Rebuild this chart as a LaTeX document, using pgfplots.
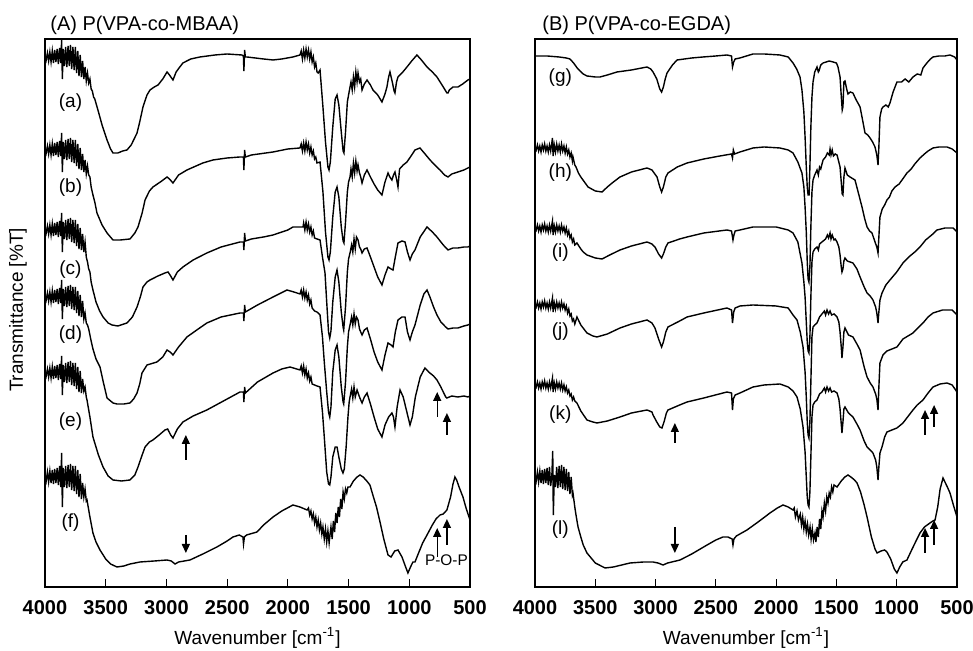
\documentclass[border=0pt]{standalone}
\usepackage{fontspec}
\setmainfont{Liberation Sans}
\usepackage{pgfplots}
\pgfplotsset{compat=1.18}
\usetikzlibrary{arrows.meta}

\pgfplotsset{
  ftir/.style={
    scale only axis, height=274pt,
    x dir=reverse, xmin=500, xmax=4000, ymin=0, ymax=548,
    xtick={500,1000,...,4000}, ytick=\empty,
    xtick pos=left, tick align=inside, major tick length=4pt,
    axis line style={line width=1.2pt},
    every tick/.style={black, line width=0.5pt},
    /pgf/number format/assume math mode=true,
    /pgf/number format/1000 sep={},
    xticklabel style={font=\fontsize{10}{12}\selectfont\bfseries, yshift=-3pt},
  },
  spec/.style={black, line width=0.7pt, mark=none},
}
\tikzset{
  lab/.style={font=\fontsize{9.5}{11}\selectfont},
  arr/.style={-{Triangle[length=4.5pt,width=4pt]}, line width=0.7pt},
}

\begin{document}
\begin{tikzpicture}
% ---------- (A) P(VPA-co-MBAA) ----------
\begin{axis}[ftir, width=212.5pt, at={(0pt,0pt)}]
% (a)
\addplot[spec] coordinates {
(4000,532) (3990,527) (3980,534) (3970,526) (3960,535) (3950,525) (3940,536) (3930,524) (3920,537) (3910,525)
(3900,538) (3890,523) (3880,539) (3870,524) (3863,547) (3857,508) (3850,538) (3840,521) (3830,540) (3820,520)
(3810,541) (3800,521) (3790,542) (3780,518) (3770,540) (3760,517) (3750,540) (3740,514) (3730,536) (3720,511)
(3710,532) (3700,510) (3690,526) (3680,508) (3670,520) (3660,506) (3650,514) (3640,504) (3630,508) (3620,498)
(3610,496) (3600,490) (3590,488) (3564,477) (3530,462) (3489,447) (3460,438) (3440,434) (3400,434) (3360,436)
(3325,437) (3290,442) (3242,454) (3220,465) (3193,480) (3160,492) (3135,497) (3100,500) (3069,502) (3030,508)
(2995,515) (2975,512) (2946,507) (2920,515) (2890,520) (2864,524) (2800,528) (2724,530) (2600,532) (2501,533)
(2378,532) (2366,531) (2362,516) (2356,537) (2350,530) (2337,530) (2200,528) (2122,527) (2050,528) (1958,530)
(1900,532) (1890,536) (1880,528) (1870,537) (1860,529) (1850,538) (1840,530) (1830,537) (1820,528) (1810,535)
(1800,525) (1790,530) (1780,520) (1770,524) (1760,515) (1750,514) (1735,517) (1711,480) (1690,445) (1670,420)
(1661,417) (1650,425) (1630,460) (1610,488) (1595,492) (1580,482) (1560,455) (1545,436) (1538,434) (1525,455)
(1510,485) (1500,492) (1488,500) (1480,505) (1470,497) (1460,510) (1450,500) (1440,515) (1430,505) (1422,514)
(1410,505) (1400,508) (1389,497) (1370,503) (1348,507) (1320,502) (1299,497) (1260,492) (1225,485) (1200,493)
(1184,500) (1170,510) (1159,515) (1140,505) (1125,496) (1118,494) (1105,505) (1093,510) (1060,514) (1019,520)
(980,526) (937,532) (900,527) (854,520) (810,515) (772,510) (720,500) (690,494) (681,494) (670,497)
(640,500) (599,500) (560,503) (517,507) (500,508)};
% (b)
\addplot[spec] coordinates {
(4000,439) (3990,434) (3980,441) (3970,433) (3960,442) (3950,432) (3940,443) (3930,431) (3920,444) (3910,432)
(3900,445) (3890,430) (3880,446) (3870,431) (3863,454) (3857,415) (3850,445) (3840,428) (3830,447) (3820,427)
(3810,448) (3800,428) (3790,449) (3780,425) (3770,447) (3760,424) (3750,447) (3740,421) (3730,443) (3720,418)
(3710,439) (3700,417) (3690,433) (3680,415) (3670,427) (3660,413) (3650,421) (3640,412) (3630,410) (3620,400)
(3605,392) (3590,385) (3572,374) (3530,362) (3489,354) (3440,347) (3380,347) (3300,348) (3260,354) (3234,360)
(3200,374) (3176,387) (3140,396) (3111,400) (3050,405) (2995,410) (2975,408) (2946,404) (2900,412) (2831,417)
(2700,424) (2617,427) (2500,429) (2394,430) (2366,430) (2362,417) (2356,437) (2350,430) (2300,432) (2122,435)
(2000,438) (1900,439) (1890,443) (1880,436) (1870,444) (1860,436) (1850,445) (1840,437) (1830,443) (1820,434)
(1810,440) (1800,432) (1790,436) (1780,428) (1770,430) (1760,424) (1735,425) (1711,395) (1690,355) (1670,330)
(1661,327) (1650,335) (1630,370) (1610,395) (1595,400) (1580,390) (1560,360) (1545,346) (1538,344) (1525,365)
(1510,395) (1500,405) (1488,410) (1480,418) (1470,410) (1460,424) (1450,414) (1440,426) (1430,416) (1422,422)
(1410,414) (1400,410) (1389,404) (1370,412) (1348,417) (1320,410) (1290,403) (1260,397) (1225,392) (1200,405)
(1175,414) (1160,410) (1143,407) (1130,412) (1118,415) (1105,408) (1093,400) (1080,418) (1050,422) (1019,425)
(980,432) (953,437) (912,439) (870,433) (829,427) (790,422) (747,417) (710,412) (681,410) (650,413)
(599,415) (550,417) (517,419) (500,420)};
% (c)
\addplot[spec] coordinates {
(4000,359) (3990,354) (3980,361) (3970,353) (3960,362) (3950,352) (3940,363) (3930,351) (3920,364) (3910,352)
(3900,365) (3890,350) (3880,366) (3870,351) (3863,374) (3857,335) (3850,365) (3840,348) (3830,367) (3820,347)
(3810,368) (3800,348) (3790,369) (3780,345) (3770,367) (3760,344) (3750,367) (3740,341) (3730,363) (3720,338)
(3710,359) (3700,337) (3690,353) (3680,335) (3670,345) (3660,330) (3650,325) (3640,318) (3630,315) (3620,305)
(3605,297) (3580,285) (3550,276) (3522,270) (3480,264) (3448,262) (3400,261) (3325,264) (3280,270) (3242,280)
(3215,290) (3193,300) (3160,305) (3135,307) (3070,311) (3012,314) (2987,315) (2965,311) (2946,307) (2910,315)
(2864,320) (2780,327) (2667,334) (2550,340) (2394,345) (2366,345) (2362,337) (2356,354) (2350,346) (2300,348)
(2200,350) (2122,352) (2000,357) (1958,360) (1875,360) (1870,364) (1860,357) (1850,365) (1840,357) (1830,363)
(1820,355) (1810,360) (1800,352) (1790,356) (1780,349) (1760,348) (1735,347) (1715,330) (1694,314) (1680,285)
(1665,255) (1655,249) (1645,256) (1630,285) (1610,310) (1595,317) (1580,305) (1560,275) (1545,260) (1540,257)
(1525,280) (1510,315) (1500,328) (1488,334) (1475,342) (1465,335) (1455,348) (1445,338) (1435,350) (1422,347)
(1410,340) (1400,338) (1389,334) (1370,338) (1348,339) (1320,330) (1290,320) (1260,310) (1225,302) (1200,312)
(1175,320) (1150,318) (1134,317) (1115,330) (1093,344) (1060,346) (1035,345) (1015,335) (994,327) (975,333)
(953,337) (910,350) (854,360) (810,355) (772,350) (720,342) (681,337) (640,339) (599,339) (550,340)
(517,340) (500,341)};
% (d)
\addplot[spec] coordinates {
(4000,292) (3990,287) (3980,294) (3970,286) (3960,295) (3950,285) (3940,296) (3930,284) (3920,297) (3910,285)
(3900,298) (3890,283) (3880,299) (3870,284) (3863,307) (3857,268) (3850,298) (3840,281) (3830,300) (3820,280)
(3810,301) (3800,281) (3790,302) (3780,278) (3770,300) (3760,277) (3750,300) (3740,274) (3730,296) (3720,271)
(3710,292) (3700,270) (3690,286) (3680,268) (3670,274) (3660,264) (3650,262) (3640,258) (3630,252) (3620,246)
(3605,238) (3580,228) (3547,220) (3520,205) (3489,189) (3440,184) (3407,183) (3350,183) (3300,184) (3270,188)
(3242,194) (3220,203) (3201,214) (3160,222) (3078,225) (3030,230) (2995,237) (2970,235) (2946,232) (2900,240)
(2831,250) (2750,257) (2667,264) (2550,270) (2394,274) (2366,274) (2362,266) (2356,282) (2350,275) (2250,282)
(2122,290) (2007,297) (1950,295) (1900,293) (1890,297) (1880,290) (1870,297) (1860,289) (1850,295) (1840,287)
(1830,292) (1820,283) (1810,287) (1800,279) (1780,276) (1760,275) (1735,272) (1715,250) (1700,225) (1680,195)
(1665,175) (1655,170) (1645,180) (1630,215) (1610,237) (1595,242) (1580,230) (1560,200) (1545,185) (1540,183)
(1525,205) (1510,240) (1500,255) (1488,262) (1475,270) (1465,262) (1455,273) (1445,263) (1435,270) (1422,267)
(1410,258) (1400,255) (1389,252) (1370,257) (1348,259) (1320,248) (1290,235) (1260,225) (1225,217) (1200,232)
(1175,244) (1150,242) (1134,240) (1115,255) (1093,267) (1060,270) (1035,270) (1015,255) (994,247) (975,255)
(953,262) (910,282) (880,293) (854,297) (830,290) (800,280) (772,272) (740,265) (700,260) (681,258)
(640,259) (599,259) (550,261) (517,262) (500,263)};
% (e)
\addplot[spec] coordinates {
(4000,216) (3990,211) (3980,218) (3970,210) (3960,219) (3950,209) (3940,220) (3930,208) (3920,221) (3910,209)
(3900,222) (3890,207) (3880,223) (3870,208) (3863,231) (3857,192) (3850,222) (3840,205) (3830,224) (3820,204)
(3810,225) (3800,205) (3790,226) (3780,202) (3770,224) (3760,201) (3750,224) (3740,198) (3730,220) (3720,195)
(3710,216) (3700,194) (3690,208) (3680,196) (3670,200) (3660,190) (3654,187) (3630,170) (3605,150) (3560,132)
(3522,120) (3480,111) (3440,107) (3370,106) (3300,107) (3260,112) (3234,120) (3200,132) (3176,140) (3140,145)
(3111,147) (3060,152) (3012,157) (2990,158) (2965,152) (2946,149) (2910,158) (2864,165) (2780,171) (2667,177)
(2500,188) (2394,195) (2366,195) (2362,185) (2356,200) (2350,194) (2250,205) (2122,214) (2050,218) (1982,220)
(1900,217) (1890,221) (1880,214) (1870,221) (1860,212) (1850,218) (1840,209) (1830,214) (1820,206) (1810,210)
(1800,203) (1780,202) (1760,201) (1735,200) (1715,175) (1700,150) (1680,115) (1665,103) (1655,102) (1645,110)
(1630,130) (1610,140) (1595,140) (1580,130) (1560,118) (1546,114) (1535,118) (1520,140) (1505,170) (1495,185)
(1488,190) (1475,198) (1465,189) (1455,200) (1445,190) (1430,197) (1410,190) (1400,187) (1389,184) (1370,190)
(1348,194) (1320,183) (1290,170) (1260,158) (1225,150) (1200,162) (1170,170) (1143,174) (1130,170) (1118,160)
(1100,180) (1076,197) (1050,190) (1020,175) (994,162) (975,170) (950,190) (910,210) (871,219) (840,215)
(800,211) (772,207) (740,200) (700,190) (690,189) (650,191) (600,190) (550,191) (517,190) (500,191)};
% (f)
\addplot[spec] coordinates {
(4000,112) (3990,106) (3980,115) (3970,105) (3960,116) (3950,104) (3940,117) (3930,103) (3920,118) (3910,104)
(3900,119) (3890,102) (3880,121) (3870,100) (3863,134) (3857,80) (3850,119) (3840,100) (3830,121) (3820,99)
(3810,122) (3800,100) (3790,123) (3780,97) (3770,121) (3760,96) (3750,121) (3740,93) (3730,117) (3720,90)
(3710,113) (3700,88) (3690,104) (3680,90) (3670,98) (3660,86) (3654,87) (3630,70) (3605,54) (3580,45)
(3547,37) (3500,28) (3460,23) (3407,20) (3350,21) (3300,23) (3218,25) (3100,26) (2995,27) (2960,26)
(2929,23) (2900,25) (2806,27) (2700,33) (2584,40) (2500,46) (2452,50) (2400,52) (2370,50) (2365,43)
(2358,50) (2340,52) (2254,55) (2200,62) (2122,70) (2050,76) (1958,82) (1900,80) (1842,77) (1830,79)
(1820,72) (1810,76) (1800,68) (1790,73) (1780,64) (1770,70) (1760,60) (1750,67) (1740,57) (1730,64)
(1720,53) (1711,60) (1700,48) (1690,58) (1680,45) (1670,56) (1660,44) (1653,52) (1645,60) (1635,48)
(1625,66) (1615,55) (1605,74) (1595,64) (1585,80) (1575,70) (1565,88) (1555,78) (1545,95) (1535,88)
(1525,98) (1515,94) (1505,100) (1488,100) (1460,106) (1430,110) (1406,112) (1380,110) (1350,106) (1324,102)
(1300,92) (1270,80) (1241,65) (1210,48) (1175,32) (1150,30) (1120,36) (1093,37) (1060,30) (1030,20)
(1011,14) (990,20) (970,25) (953,25) (920,35) (890,44) (854,52) (810,62) (780,68) (747,72)
(720,73) (690,77) (660,90) (640,103) (624,110) (610,107) (590,100) (558,90) (530,78) (500,67)};
\node[lab] at (axis cs:3790,484) {(a)};
\node[lab] at (axis cs:3790,399) {(b)};
\node[lab] at (axis cs:3790,317) {(c)};
\node[lab] at (axis cs:3790,252) {(d)};
\node[lab] at (axis cs:3790,165) {(e)};
\node[lab] at (axis cs:3790,64) {(f)};
\draw[arr] (axis cs:2840,127) -- (axis cs:2840,152);
\draw[arr] (axis cs:770,170) -- (axis cs:770,195);
\draw[arr] (axis cs:690,152) -- (axis cs:690,174);
\draw[arr] (axis cs:2840,52) -- (axis cs:2840,34);
\draw[arr] (axis cs:770,30) -- (axis cs:770,59);
\draw[arr] (axis cs:690,42) -- (axis cs:690,68);
\node[font=\fontsize{7.7}{9}\selectfont] at (axis cs:694,27) {P-O-P};
\end{axis}

% ---------- (B) P(VPA-co-EGDA) ----------
\begin{axis}[ftir, width=211pt, at={(245pt,0pt)}]
% (g)
\addplot[spec] coordinates {
(4000,531) (3900,531) (3800,530) (3740,529) (3710,528) (3680,524) (3650,519) (3627,516) (3600,513) (3569,511)
(3500,510) (3461,510) (3400,512) (3320,515) (3200,517) (3071,520) (3040,518) (3021,515) (2990,508) (2965,498)
(2950,495) (2935,500) (2920,508) (2905,514) (2860,522) (2822,527) (2700,529) (2607,530) (2500,531) (2408,532)
(2370,531) (2362,520) (2352,525) (2340,528) (2300,529) (2192,533) (2100,533) (1968,532) (1900,530) (1860,524)
(1830,518) (1802,510) (1786,497) (1770,475) (1760,450) (1750,420) (1742,400) (1735,392) (1727,392) (1720,420)
(1712,460) (1703,490) (1694,505) (1680,515) (1661,520) (1650,515) (1645,516) (1630,522) (1611,524) (1560,526)
(1528,525) (1500,524) (1487,520) (1470,510) (1462,495) (1452,477) (1446,480) (1438,505) (1429,506) (1415,498)
(1404,493) (1385,495) (1363,494) (1340,488) (1304,480) (1280,465) (1263,454) (1240,452) (1221,449) (1200,445)
(1180,440) (1165,432) (1155,422) (1148,440) (1139,470) (1125,478) (1114,480) (1090,482) (1070,480) (1056,484)
(1030,495) (998,505) (960,505) (930,508) (900,505) (865,510) (830,513) (800,512) (782,519) (750,524)
(720,528) (699,530) (650,531) (600,531) (558,532) (520,530) (500,527)};
% (h)
\addplot[spec] coordinates {
(4000,440) (3990,437) (3980,442) (3970,436) (3960,441) (3950,435) (3940,442) (3930,437) (3920,443) (3910,436)
(3900,441) (3890,435) (3880,442) (3870,436) (3855,449) (3850,431) (3840,442) (3830,435) (3820,443) (3810,436)
(3800,442) (3790,435) (3780,443) (3770,436) (3760,441) (3750,434) (3740,440) (3730,433) (3720,437) (3710,430)
(3700,434) (3690,426) (3685,430) (3670,422) (3660,420) (3640,414) (3620,410) (3602,407) (3560,400) (3500,396)
(3444,395) (3400,400) (3350,405) (3295,410) (3200,415) (3071,419) (3030,417) (2988,410) (2965,400) (2950,395)
(2935,400) (2915,410) (2897,414) (2820,420) (2739,424) (2600,428) (2466,431) (2370,433) (2362,429) (2355,437)
(2345,433) (2300,435) (2192,439) (2100,440) (1968,439) (1900,437) (1860,434) (1820,425) (1786,414) (1770,400)
(1760,380) (1750,355) (1742,325) (1735,308) (1728,305) (1720,320) (1712,360) (1703,395) (1694,407) (1680,412)
(1661,417) (1650,412) (1640,420) (1630,418) (1611,427) (1590,430) (1575,434) (1560,432) (1553,438) (1545,432)
(1535,437) (1525,431) (1510,433) (1495,432) (1480,425) (1470,420) (1460,405) (1452,393) (1446,392) (1438,410)
(1429,419) (1410,412) (1387,410) (1360,408) (1346,407) (1320,395) (1288,380) (1265,368) (1246,360) (1225,356)
(1205,354) (1180,345) (1165,340) (1155,334) (1148,350) (1139,370) (1120,378) (1100,382) (1081,387) (1060,390)
(1040,396) (1014,400) (980,403) (950,408) (915,414) (880,418) (850,423) (807,429) (770,433) (740,436)
(699,439) (650,440) (583,440) (540,438) (500,434)};
% (i)
\addplot[spec] coordinates {
(4000,360) (3990,357) (3980,362) (3970,356) (3960,361) (3950,355) (3940,362) (3930,357) (3920,363) (3910,356)
(3900,361) (3890,355) (3880,362) (3870,356) (3855,366) (3850,352) (3840,361) (3830,355) (3820,362) (3810,356)
(3800,361) (3790,355) (3780,362) (3770,356) (3760,360) (3750,354) (3740,359) (3730,352) (3720,356) (3710,349)
(3700,352) (3690,345) (3680,348) (3670,342) (3652,344) (3620,338) (3600,335) (3569,332) (3500,329) (3444,328)
(3380,332) (3295,337) (3200,341) (3071,345) (3030,343) (3005,340) (2975,333) (2950,329) (2935,333) (2915,340)
(2897,344) (2800,348) (2739,350) (2600,354) (2408,357) (2370,356) (2358,347) (2350,352) (2340,356) (2300,357)
(2192,360) (2000,360) (1900,357) (1860,354) (1820,345) (1786,324) (1770,305) (1760,290) (1750,265) (1742,245)
(1735,236) (1728,234) (1720,250) (1712,290) (1703,325) (1694,335) (1680,338) (1661,340) (1650,337) (1640,343)
(1620,345) (1590,348) (1575,352) (1565,349) (1553,354) (1545,348) (1535,352) (1520,347) (1510,348) (1495,345)
(1480,340) (1470,332) (1460,320) (1454,315) (1446,318) (1438,326) (1429,329) (1410,326) (1387,325) (1363,324)
(1330,318) (1304,310) (1270,300) (1246,294) (1220,291) (1197,287) (1175,280) (1165,274) (1155,264) (1148,275)
(1139,287) (1122,294) (1090,302) (1056,307) (1000,315) (948,324) (900,330) (850,335) (807,340) (760,347)
(700,353) (666,357) (600,359) (533,359) (500,355)};
% (j)
\addplot[spec] coordinates {
(4000,283) (3990,280) (3980,285) (3970,279) (3960,284) (3950,278) (3940,285) (3930,280) (3920,286) (3910,279)
(3900,284) (3890,278) (3880,285) (3870,279) (3855,289) (3850,275) (3840,284) (3830,278) (3820,285) (3810,279)
(3800,284) (3790,278) (3780,285) (3770,279) (3760,283) (3750,277) (3740,281) (3730,274) (3720,278) (3710,271)
(3700,273) (3690,266) (3680,268) (3670,263) (3652,270) (3620,262) (3569,254) (3520,251) (3486,250) (3400,253)
(3295,259) (3200,263) (3071,267) (3030,264) (3005,259) (2975,248) (2950,240) (2935,245) (2915,255) (2897,260)
(2800,266) (2739,270) (2600,274) (2408,279) (2370,277) (2362,264) (2352,275) (2340,279) (2300,281) (2192,282)
(2000,281) (1900,279) (1860,272) (1827,267) (1800,255) (1777,240) (1760,215) (1750,190) (1742,165) (1735,152)
(1728,149) (1720,165) (1712,205) (1703,250) (1694,260) (1680,262) (1661,264) (1640,270) (1620,273) (1600,276)
(1590,272) (1578,277) (1565,273) (1553,276) (1540,272) (1520,273) (1495,270) (1480,265) (1470,255) (1460,240)
(1454,229) (1446,240) (1438,255) (1429,259) (1400,252) (1363,250) (1330,243) (1304,237) (1270,220) (1246,210)
(1220,204) (1197,200) (1175,193) (1165,188) (1155,177) (1148,200) (1139,224) (1114,232) (1081,236) (998,240)
(948,248) (865,254) (800,262) (782,264) (740,270) (699,274) (620,277) (583,277) (540,277) (500,272)};
% (k)
\addplot[spec] coordinates {
(4000,203) (3990,200) (3980,205) (3970,199) (3960,204) (3950,198) (3940,205) (3930,200) (3920,206) (3910,199)
(3900,204) (3890,198) (3880,205) (3870,199) (3855,209) (3850,195) (3840,204) (3830,198) (3820,205) (3810,199)
(3800,204) (3790,198) (3780,204) (3770,197) (3760,202) (3750,196) (3740,200) (3730,194) (3720,197) (3710,191)
(3700,193) (3690,187) (3680,190) (3670,186) (3652,184) (3620,176) (3569,167) (3520,165) (3486,164) (3400,166)
(3295,170) (3200,174) (3071,177) (3030,175) (3021,172) (2990,165) (2965,160) (2947,159) (2930,165) (2910,174)
(2897,177) (2800,182) (2739,185) (2600,189) (2408,195) (2370,194) (2362,177) (2355,188) (2340,192) (2300,194)
(2192,200) (2100,202) (1968,203) (1900,200) (1860,196) (1827,190) (1800,178) (1777,160) (1760,135) (1750,110)
(1742,90) (1735,82) (1728,80) (1720,95) (1712,130) (1703,170) (1694,182) (1680,185) (1661,187) (1640,193)
(1620,195) (1600,199) (1590,195) (1578,200) (1565,196) (1553,199) (1540,195) (1520,196) (1495,194) (1480,188)
(1470,178) (1460,163) (1454,154) (1446,165) (1438,178) (1429,180) (1400,174) (1363,170) (1330,163) (1304,157)
(1270,146) (1246,140) (1220,137) (1197,134) (1175,127) (1165,120) (1155,107) (1148,120) (1139,134) (1122,140)
(1100,150) (1081,155) (1040,157) (998,159) (948,164) (910,170) (865,177) (830,182) (782,187) (740,194)
(699,200) (640,203) (583,204) (540,202) (500,195)};
% (l)
\addplot[spec] coordinates {
(4000,112) (3990,106) (3980,115) (3970,105) (3960,116) (3950,104) (3940,117) (3930,103) (3920,118) (3910,104)
(3900,119) (3890,102) (3880,120) (3870,101) (3860,112) (3853,136) (3848,72) (3840,112) (3830,100) (3820,120)
(3810,99) (3800,121) (3790,100) (3780,122) (3770,98) (3760,120) (3750,97) (3740,118) (3730,96) (3720,115)
(3710,93) (3700,110) (3690,92) (3685,94) (3670,80) (3660,72) (3643,60) (3620,50) (3600,42) (3569,34)
(3500,24) (3419,19) (3350,20) (3212,24) (3100,25) (3021,25) (2980,24) (2938,22) (2900,24) (2797,27)
(2700,33) (2573,42) (2500,47) (2441,50) (2400,50) (2365,48) (2358,42) (2350,48) (2330,51) (2242,57)
(2150,65) (2051,74) (1990,79) (1943,82) (1900,80) (1860,77) (1850,79) (1840,70) (1827,76) (1815,67)
(1800,73) (1790,62) (1780,70) (1770,58) (1760,66) (1750,55) (1740,63) (1730,52) (1719,60) (1710,48)
(1700,58) (1690,47) (1678,54) (1670,45) (1660,60) (1650,50) (1640,68) (1630,58) (1620,76) (1611,70)
(1600,84) (1590,76) (1580,90) (1570,84) (1560,94) (1550,90) (1540,100) (1530,95) (1520,102) (1495,100)
(1460,106) (1430,110) (1404,112) (1380,110) (1350,107) (1329,104) (1300,95) (1270,82) (1246,70) (1210,50)
(1180,38) (1163,34) (1130,36) (1100,37) (1081,35) (1050,28) (1020,18) (998,14) (975,20) (950,25)
(915,27) (880,36) (840,46) (807,54) (770,60) (724,64) (700,66) (682,67) (660,80) (640,98)
(616,109) (600,105) (580,100) (558,94) (530,82) (500,70)};
\node[lab] at (axis cs:3790,509) {(g)};
\node[lab] at (axis cs:3790,414) {(h)};
\node[lab] at (axis cs:3790,334) {(i)};
\node[lab] at (axis cs:3790,255) {(j)};
\node[lab] at (axis cs:3790,172) {(k)};
\node[lab] at (axis cs:3790,57) {(l)};
\draw[arr] (axis cs:2840,144) -- (axis cs:2840,164);
\draw[arr] (axis cs:765,152) -- (axis cs:765,177);
\draw[arr] (axis cs:690,160) -- (axis cs:690,182);
\draw[arr] (axis cs:2840,60) -- (axis cs:2840,34);
\draw[arr] (axis cs:765,34) -- (axis cs:765,59);
\draw[arr] (axis cs:690,42) -- (axis cs:690,67);
\end{axis}

\node[anchor=west, inner sep=0pt, font=\fontsize{10}{12}\selectfont] at (2.5pt,281pt) {(A) P(VPA-co-MBAA)};
\node[anchor=west, inner sep=0pt, font=\fontsize{10}{12}\selectfont] at (248.5pt,281pt) {(B) P(VPA-co-EGDA)};
\node[lab, rotate=90] at (-13.5pt,138.5pt) {Transmittance [\%T]};
\node[lab] at (106.25pt,-25.5pt) {Wavenumber [cm\textsuperscript{-1}]};
\node[lab] at (350.5pt,-25.5pt) {Wavenumber [cm\textsuperscript{-1}]};

\pgfresetboundingbox
\path (-22.5pt,-32pt) rectangle (464pt,293.5pt);
\end{tikzpicture}
\end{document}
